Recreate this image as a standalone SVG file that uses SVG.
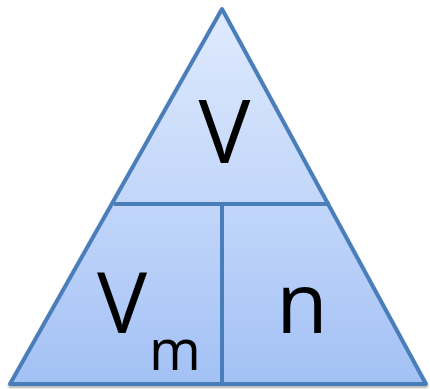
<svg xmlns="http://www.w3.org/2000/svg" width="430" height="389" viewBox="0 0 430 389">
  <defs>
    <linearGradient id="fill" x1="0" y1="9" x2="0" y2="384" gradientUnits="userSpaceOnUse">
      <stop offset="0" stop-color="#dfeafd"/>
      <stop offset="0.5" stop-color="#c3d7fa"/>
      <stop offset="1" stop-color="#a3c1f5"/>
    </linearGradient>
    <filter id="shadow" x="-5%" y="-5%" width="110%" height="112%">
      <feDropShadow dx="0" dy="2" stdDeviation="1.2" flood-color="#000" flood-opacity="0.3"/>
    </filter>
  </defs>
  <style>
    .edge { stroke: #4a7ebb; stroke-width: 4; fill: none; stroke-linejoin: round; }
    .tri { stroke: #4a7ebb; stroke-width: 4; fill: url(#fill); stroke-linejoin: round; }
    .lbl { font-family: "Open Sans", "Liberation Sans", sans-serif; fill: #000; }
  </style>
  <g id="triangle">
    <polygon points="222,9 10,384 426,384" class="tri" filter="url(#shadow)"/>
  </g>
  <g id="connectors">
    <line class="edge" x1="114" y1="204" x2="330" y2="204"/>
    <line class="edge" x1="222" y1="204" x2="222" y2="383"/>
  </g>
  <g id="node-V">
    <text class="lbl" x="224.5" y="163" font-size="87" text-anchor="middle">V</text>
  </g>
  <g id="node-Vm">
    <text class="lbl" x="122" y="333" font-size="84" text-anchor="middle">V</text>
    <text class="lbl" x="175" y="370" font-size="56" text-anchor="middle">m</text>
  </g>
  <g id="node-n">
    <text class="lbl" x="302" y="333" font-size="84" text-anchor="middle">n</text>
  </g>
</svg>
